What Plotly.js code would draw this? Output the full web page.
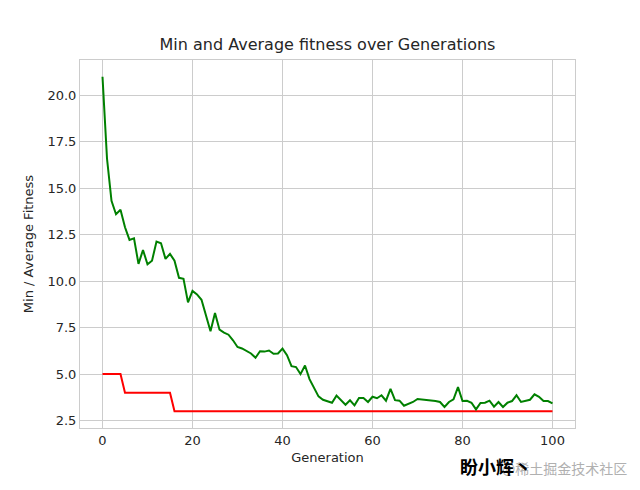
<!DOCTYPE html>
<html>
<head>
<meta charset="utf-8">
<script src="https://cdn.plot.ly/plotly-3.0.1.min.js"></script>
<style>html,body{margin:0;padding:0;background:#fff;}#chart{width:640px;height:490px;}</style>
</head>
<body>
<div id="chart"></div>
<script>
const generations = Array.from({length: 101}, (_, i) => i);
const minFitness = [
  5,5,5,5,5,4,4,4,4,4,4,4,4,4,4,4,3,3,3,3,
  3,3,3,3,3,3,3,3,3,3,3,3,3,3,3,3,3,3,3,3,
  3,3,3,3,3,3,3,3,3,3,3,3,3,3,3,3,3,3,3,3,
  3,3,3,3,3,3,3,3,3,3,3,3,3,3,3,3,3,3,3,3,
  3,3,3,3,3,3,3,3,3,3,3,3,3,3,3,3,3,3,3,3,3
];
const avgFitness = [
  21.0,16.6,14.32,13.6,13.84,12.9,12.22,12.3,10.93,11.68,
  10.91,11.1,12.13,12.04,11.2,11.47,11.1,10.18,10.13,8.86,
  9.48,9.29,9.0,8.07,7.3,8.29,7.39,7.23,7.12,6.82,
  6.46,6.38,6.23,6.11,5.88,6.23,6.21,6.27,6.09,6.11,
  6.37,6.02,5.43,5.38,5.0,5.46,4.73,4.29,3.8,3.62,
  3.53,3.46,3.84,3.62,3.35,3.59,3.32,3.71,3.71,3.5,
  3.78,3.7,3.86,3.57,4.2,3.6,3.57,3.3,3.41,3.5,
  3.66,3.64,3.6,3.57,3.55,3.5,3.23,3.5,3.64,4.3,
  3.55,3.56,3.46,3.1,3.45,3.46,3.57,3.25,3.5,3.23,
  3.46,3.55,3.86,3.5,3.55,3.62,3.91,3.78,3.55,3.55,3.43
];
const xTicks = [0, 20, 40, 60, 80, 100];
const yTicks = [2.5, 5.0, 7.5, 10.0, 12.5, 15.0, 17.5, 20.0];

const textColor = '#262626';
const font = 'DejaVu Sans, sans-serif';

const data = [
  {x: generations, y: minFitness, type: 'scatter', mode: 'lines',
   line: {color: '#ff0000', width: 2}, hoverinfo: 'skip'},
  {x: generations, y: avgFitness, type: 'scatter', mode: 'lines',
   line: {color: '#008000', width: 2}, hoverinfo: 'skip'}
];

const layout = {
  width: 640, height: 490,
  margin: {l: 80, r: 65, t: 60, b: 62},
  paper_bgcolor: '#ffffff', plot_bgcolor: '#ffffff',
  showlegend: false,
  font: {family: font, color: textColor, size: 13},
  title: {text: 'Min and Average fitness over Generations',
          font: {family: font, size: 16, color: textColor},
          x: 0.5, xanchor: 'center', y: 0.91, yanchor: 'middle', xref: 'paper'},
  xaxis: {
    range: [-5, 105], tickvals: xTicks, ticktext: xTicks.map(String),
    showgrid: true, gridcolor: '#cccccc', gridwidth: 1,
    zeroline: false, showline: true, mirror: true, linecolor: '#cccccc', linewidth: 1,
    ticks: '', ticklen: 0, tickfont: {family: font, size: 13, color: textColor},
    title: {text: 'Generation', font: {family: font, size: 13, color: textColor}, standoff: 6}
  },
  yaxis: {
    range: [2.1, 21.9], tickvals: yTicks, ticktext: yTicks.map(v => v.toFixed(1)),
    showgrid: true, gridcolor: '#cccccc', gridwidth: 1,
    zeroline: false, showline: true, mirror: true, linecolor: '#cccccc', linewidth: 1,
    ticks: '', ticklen: 0, tickfont: {family: font, size: 13, color: textColor},
    title: {text: 'Min / Average Fitness', font: {family: font, size: 13, color: textColor}, standoff: 10}
  },
  annotations: [
    {text: '@稀土掘金技术社区', xref: 'paper', yref: 'paper', x: 1.11, y: -0.108,
     xanchor: 'right', yanchor: 'middle', showarrow: false,
     font: {family: 'Noto Sans CJK SC', size: 14, color: '#b0b0b0'}},
    {text: '<b>盼小辉丶</b>', xref: 'paper', yref: 'paper', x: 0.763, y: -0.103,
     xanchor: 'left', yanchor: 'middle', showarrow: false,
     font: {family: 'Noto Sans CJK SC', size: 18, color: '#000000'}}
  ]
};

Plotly.newPlot('chart', data, layout, {displayModeBar: false, staticPlot: true});
</script>
</body>
</html>
